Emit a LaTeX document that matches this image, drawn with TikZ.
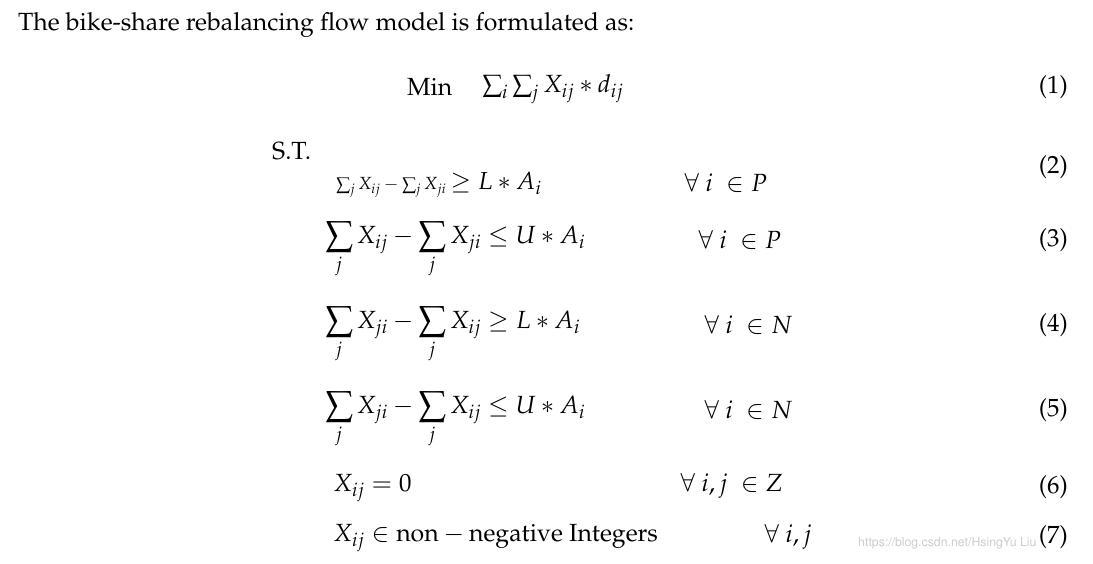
\documentclass[tikz,border=0pt]{standalone}
\usepackage[T1]{fontenc}
\usepackage{mathpazo}
\begin{document}
\begin{tikzpicture}[x=0.03cm,y=-0.03cm,
  t/.style={anchor=west,inner sep=0pt,font=\fontsize{21.2pt}{25pt}\selectfont},
  n/.style={anchor=east,inner sep=0pt,font=\fontsize{21.2pt}{25pt}\selectfont}]
\useasboundingbox (0,0) rectangle (1093,564);
\node[anchor=west,inner sep=0pt,text=gray!40,font=\fontsize{10.5pt}{13pt}\fontfamily{phv}\selectfont] (wm) at (858,543) {https://blog.csdn.net/HsingYu Liu};
\node[t] (title) at (18,25) {The bike-share rebalancing flow model is formulated as:};
\node[t] (min) at (407,87) {Min};
\node[t] (obj) at (482,89) {$\sum_i\sum_j X_{ij}*d_{ij}$};
\node[n] (n1) at (1068,87) {(1)};
\node[t] (st) at (272,151) {S.T.};
\node[t] (e2) at (336,185) {\fontsize{15pt}{18pt}\selectfont$\sum_j X_{ij}-\sum_j X_{ji}$\fontsize{21pt}{25pt}\selectfont$\,\geq L*A_i$};
\node[t] (f2) at (684,183) {$\forall\ i\ \in P$};
\node[n] (n2) at (1068,167) {(2)};
\node[t] (e3) at (325,250) {$\displaystyle\sum_j X_{ij}-\sum_j X_{ji}\leq U*A_i$};
\node[t] (f3) at (698,240) {$\forall\ i\ \in P$};
\node[n] (n3) at (1068,240) {(3)};
\node[t] (e4) at (325,335) {$\displaystyle\sum_j X_{ji}-\sum_j X_{ij}\geq L*A_i$};
\node[t] (f4) at (704,325) {$\forall\ i\ \in N$};
\node[n] (n4) at (1068,325) {(4)};
\node[t] (e5) at (325,420) {$\displaystyle\sum_j X_{ji}-\sum_j X_{ij}\leq U*A_i$};
\node[t] (f5) at (704,410) {$\forall\ i\ \in N$};
\node[n] (n5) at (1068,410) {(5)};
\node[t] (e6) at (333,488) {$X_{ij}=0$};
\node[t] (f6) at (680,486) {$\forall\ i,j\ \in Z$};
\node[n] (n6) at (1068,487) {(6)};
\node[t] (e7) at (333,538) {$X_{ij}\in\mathrm{non}-\mathrm{negative\ Integers}$};
\node[t] (f7) at (764,537) {$\forall\ i,j$};
\node[n] (n7) at (1068,537) {(7)};
\end{tikzpicture}
\end{document}
